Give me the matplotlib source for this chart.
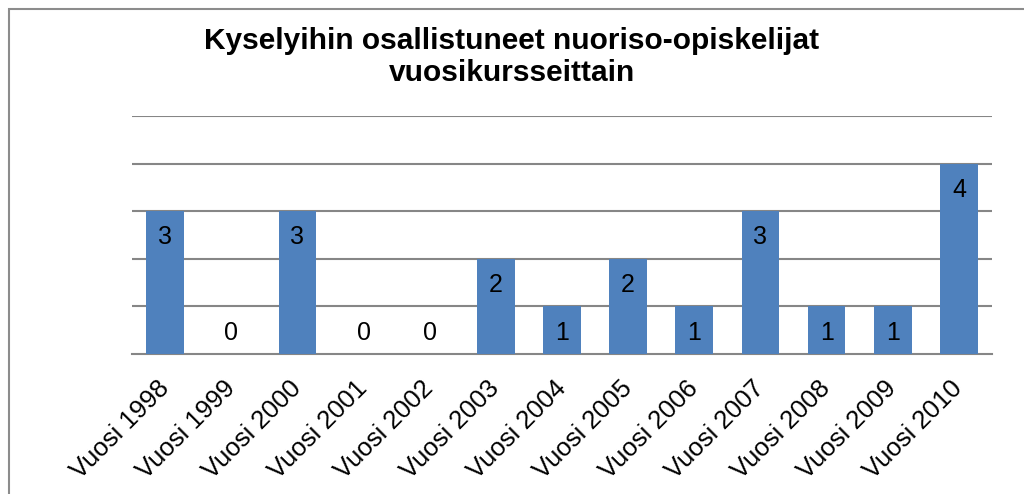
import matplotlib.pyplot as plt
import numpy as np
from matplotlib.patches import Rectangle

plt.rcParams['font.family'] = ['Liberation Sans', 'DejaVu Sans']

# Data
years = ['Vuosi 1998', 'Vuosi 1999', 'Vuosi 2000', 'Vuosi 2001', 'Vuosi 2002',
         'Vuosi 2003', 'Vuosi 2004', 'Vuosi 2005', 'Vuosi 2006', 'Vuosi 2007',
         'Vuosi 2008', 'Vuosi 2009', 'Vuosi 2010']
counts = [3, 0, 3, 0, 0, 2, 1, 2, 1, 3, 1, 1, 4]

title_lines = ['Kyselyihin osallistuneet nuoriso-opiskelijat', 'vuosikursseittain']

fig = plt.figure(figsize=(10.24, 4.94), dpi=100)
ax = fig.add_axes([132 / 1024, 1 - 354 / 494, 860 / 1024, 238 / 494])

# Chart border (extends past the right and bottom edges)
fig.patches.append(Rectangle((9 / 1024, -0.1), 1.2, 1 - 9 / 494 + 0.1,
                             transform=fig.transFigure, fill=False,
                             edgecolor='#8c8c8c', linewidth=1.5))

x = np.arange(len(years))
ax.bar(x, counts, width=0.57, color='#4f81bd', zorder=3)

# Value labels
for xi, v in zip(x, counts):
    ax.text(xi, max(v, 1) - 0.55, str(v), ha='center', va='center',
            fontsize=18, color='black', zorder=4)

ax.set_xlim(-0.5, len(years) - 0.5)
ax.set_ylim(0, 5)
for g in range(1, 6):
    ax.axhline(g, color='#868686', linewidth=1.5, zorder=1)

for s in ['top', 'right', 'left']:
    ax.spines[s].set_visible(False)
ax.spines['bottom'].set_color('#868686')
ax.spines['bottom'].set_linewidth(1.5)
ax.set_yticks([])
ax.set_xticks(x)
ax.set_xticklabels(years, rotation=45, ha='right', va='center',
                   rotation_mode='anchor', fontsize=18.5)
ax.tick_params(axis='x', length=0, pad=22)

# Title, two lines placed by baseline
fig.text(0.5, 1 - 49 / 494, title_lines[0], ha='center', va='baseline',
         fontsize=21.5, fontweight='bold')
fig.text(0.5, 1 - 81 / 494, title_lines[1], ha='center', va='baseline',
         fontsize=21.5, fontweight='bold')

fig.savefig('out.png', dpi=100)
